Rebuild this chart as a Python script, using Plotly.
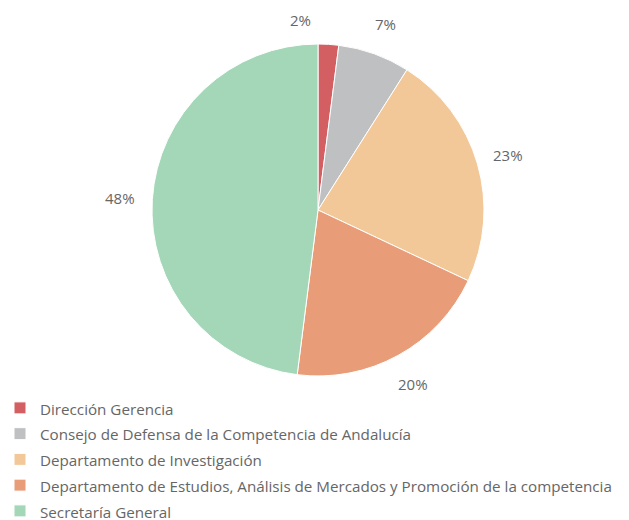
import math
import plotly.graph_objects as go

labels = [
    "Dirección Gerencia",
    "Consejo de Defensa de la Competencia de Andalucía",
    "Departamento de Investigación",
    "Departamento de Estudios, Análisis de Mercados y Promoción de la competencia",
    "Secretaría General",
]
values = [2, 7, 23, 20, 48]
colors = ["#d35f63", "#bfc0c2", "#f3c899", "#e89c78", "#a3d7b7"]

W, H = 629, 520
off = 8  # page body margin
cx, cy, r = 318 - off, 210 - off, 166

fig = go.Figure()
fig.add_trace(go.Pie(
    labels=['<span style="font-size:15.2px">' + l + '</span>' for l in labels],
    values=values,
    sort=False,
    direction="clockwise",
    rotation=0,
    marker=dict(colors=colors, line=dict(color="white", width=1)),
    textinfo="none",
    domain=dict(x=[(cx - r) / W, (cx + r) / W],
                y=[1 - (cy + r) / H, 1 - (cy - r) / H]),
    hoverinfo="label+percent",
))

# percentage labels outside the slices, placed at the mid angle of each slice
total = sum(values)
start = 0
for i, v in enumerate(values):
    mid = (start + v / 2) / total * 2 * math.pi
    start += v
    lr = 190 if i == 0 else 198
    x = cx + lr * math.sin(mid)
    y = cy - lr * math.cos(mid)
    if i == 0:
        x -= 29  # small slice label pushed aside like in the original
    fig.add_annotation(
        x=x / W, y=1 - y / H, xref="paper", yref="paper",
        xanchor="center", yanchor="middle",
        text="{:.0f}%".format(v / total * 100), showarrow=False,
        font=dict(size=15, color="#666666"),
    )

fig.update_layout(
    width=W,
    height=H,
    margin=dict(l=0, r=0, t=0, b=0, autoexpand=False),
    paper_bgcolor="white",
    font=dict(family="Open Sans", color="#666666"),
    showlegend=True,
    legend=dict(
        x=-8 / W, y=1 - 382 / H, xanchor="left", yanchor="top",
        font=dict(size=17.5, color="#666666"),
        itemwidth=30,
        traceorder="normal",
    ),
)

fig.write_html("out.html")
